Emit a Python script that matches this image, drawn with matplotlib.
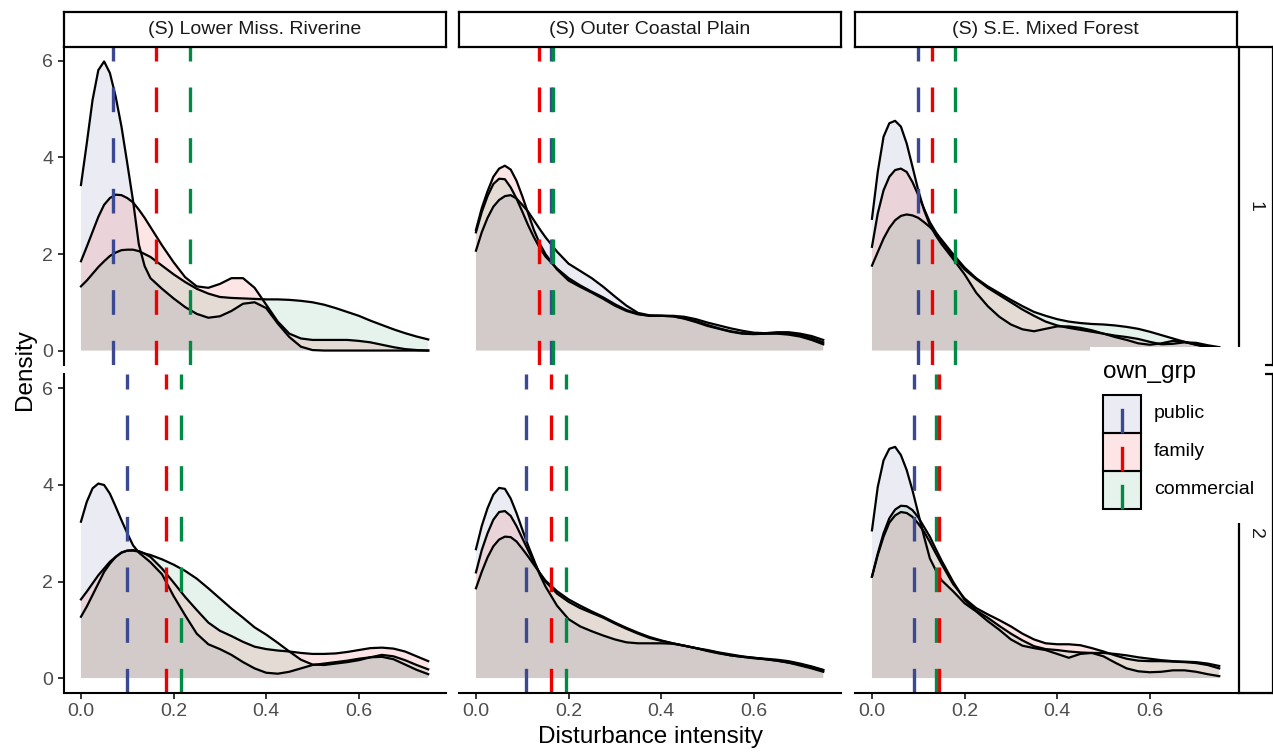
import matplotlib.pyplot as plt
from matplotlib.patches import Rectangle
from matplotlib.lines import Line2D
from matplotlib.colors import to_rgba

plt.rcParams['font.family'] = ['Liberation Sans', 'DejaVu Sans']

regions = ['(S) Lower Miss. Riverine', '(S) Outer Coastal Plain', '(S) S.E. Mixed Forest']
rows = ['1', '2']
groups = ['public', 'family', 'commercial']
colors = ['#3B4992', '#EE0000', '#008B45']

# density evaluation grid (disturbance intensity), finer near the peaks
x_grid = [0.0, 0.0125, 0.025, 0.0375, 0.05, 0.0625, 0.075, 0.0875, 0.1, 0.1125, 0.125, 0.1375, 0.15,
          0.175, 0.2, 0.225, 0.25, 0.275, 0.3, 0.325, 0.35, 0.375, 0.4, 0.425, 0.45, 0.475, 0.5,
          0.525, 0.55, 0.575, 0.6, 0.625, 0.65, 0.675, 0.7, 0.725, 0.75]

# row 1
r1c1_public = [3.43, 4.29, 5.19, 5.81, 5.99, 5.75, 5.26, 4.64, 3.88, 3.1, 2.2, 1.75, 1.5,
               1.28, 1.08, 0.9, 0.76, 0.68, 0.71, 0.82, 0.97, 1.0, 0.88, 0.56, 0.28, 0.08, 0.01,
               0, 0, 0, 0, 0, 0, 0, 0, 0, 0]
r1c1_family = [1.85, 2.15, 2.46, 2.77, 3.02, 3.16, 3.23, 3.22, 3.16, 3.07, 2.92, 2.75, 2.56,
               2.18, 1.83, 1.52, 1.33, 1.3, 1.38, 1.5, 1.5, 1.3, 0.95, 0.6, 0.35, 0.25, 0.22,
               0.22, 0.22, 0.22, 0.2, 0.17, 0.12, 0.07, 0.03, 0.01, 0.0]
r1c1_commercial = [1.33, 1.45, 1.59, 1.73, 1.85, 1.96, 2.03, 2.08, 2.09, 2.09, 2.06, 2.0, 1.94,
                   1.76, 1.58, 1.42, 1.28, 1.18, 1.11, 1.09, 1.08, 1.07, 1.06, 1.06, 1.05, 1.03, 1.0,
                   0.95, 0.88, 0.8, 0.72, 0.62, 0.53, 0.44, 0.36, 0.29, 0.23]

r1c2_public = [2.07, 2.45, 2.75, 2.98, 3.12, 3.2, 3.22, 3.15, 3.02, 2.88, 2.7, 2.52, 2.35,
               2.05, 1.8, 1.65, 1.5, 1.32, 1.12, 0.93, 0.78, 0.73, 0.72, 0.72, 0.7, 0.65, 0.58,
               0.52, 0.46, 0.41, 0.37, 0.36, 0.38, 0.38, 0.35, 0.3, 0.22]
r1c2_family = [2.5, 2.95, 3.3, 3.6, 3.77, 3.83, 3.75, 3.52, 3.2, 2.85, 2.5, 2.22, 2.0,
               1.68, 1.45, 1.32, 1.2, 1.07, 0.93, 0.82, 0.75, 0.72, 0.72, 0.71, 0.66, 0.59, 0.51,
               0.45, 0.39, 0.35, 0.34, 0.35, 0.35, 0.33, 0.29, 0.22, 0.13]
r1c2_commercial = [2.45, 2.87, 3.2, 3.45, 3.56, 3.55, 3.38, 3.15, 2.88, 2.6, 2.35, 2.13, 1.95,
                   1.7, 1.5, 1.35, 1.22, 1.1, 0.96, 0.84, 0.76, 0.72, 0.72, 0.71, 0.67, 0.61, 0.53,
                   0.46, 0.4, 0.36, 0.35, 0.35, 0.36, 0.35, 0.32, 0.26, 0.17]

r1c3_public = [2.73, 3.7, 4.43, 4.71, 4.76, 4.64, 4.29, 3.81, 3.32, 2.91, 2.6, 2.39, 2.21,
               1.9, 1.58, 1.2, 0.92, 0.7, 0.54, 0.44, 0.4, 0.45, 0.5, 0.5, 0.47, 0.42, 0.35,
               0.28, 0.22, 0.15, 0.12, 0.15, 0.2, 0.18, 0.12, 0.07, 0.05]
r1c3_family = [2.15, 2.84, 3.32, 3.6, 3.74, 3.77, 3.7, 3.49, 3.22, 2.94, 2.66, 2.46, 2.28,
               1.95, 1.68, 1.48, 1.3, 1.15, 1.0, 0.85, 0.72, 0.6, 0.52, 0.47, 0.43, 0.39, 0.35,
               0.31, 0.28, 0.24, 0.18, 0.13, 0.14, 0.17, 0.16, 0.11, 0.07]
r1c3_commercial = [1.76, 2.04, 2.32, 2.54, 2.7, 2.79, 2.82, 2.8, 2.75, 2.66, 2.56, 2.44, 2.3,
                   2.0, 1.72, 1.5, 1.33, 1.19, 1.05, 0.92, 0.8, 0.72, 0.65, 0.6, 0.57, 0.55, 0.54,
                   0.52, 0.49, 0.45, 0.39, 0.32, 0.25, 0.18, 0.12, 0.08, 0.06]

# row 2
r2c1_public = [3.24, 3.65, 3.93, 4.03, 4.0, 3.82, 3.55, 3.27, 3.0, 2.75, 2.6, 2.5, 2.4,
               2.15, 1.7, 1.3, 0.92, 0.7, 0.6, 0.48, 0.33, 0.2, 0.11, 0.09, 0.13, 0.2, 0.27,
               0.3, 0.33, 0.36, 0.4, 0.43, 0.44, 0.39, 0.28, 0.17, 0.08]
r2c1_family = [1.63, 1.79, 1.96, 2.13, 2.27, 2.41, 2.51, 2.6, 2.64, 2.65, 2.63, 2.58, 2.51,
               2.27, 1.98, 1.68, 1.41, 1.15, 0.98, 0.87, 0.75, 0.65, 0.6, 0.57, 0.55, 0.52, 0.5,
               0.5, 0.51, 0.54, 0.58, 0.62, 0.63, 0.61, 0.55, 0.45, 0.35]
r2c1_commercial = [1.27, 1.48, 1.72, 1.96, 2.2, 2.37, 2.51, 2.6, 2.64, 2.64, 2.62, 2.58, 2.55,
                   2.46, 2.35, 2.22, 2.06, 1.86, 1.65, 1.44, 1.25, 1.05, 0.9, 0.73, 0.55, 0.38, 0.28,
                   0.27, 0.3, 0.33, 0.37, 0.43, 0.48, 0.45, 0.37, 0.27, 0.18]

r2c2_public = [2.67, 3.15, 3.52, 3.8, 3.94, 3.92, 3.72, 3.42, 3.08, 2.75, 2.45, 2.15, 1.9,
               1.5, 1.22, 1.07, 0.97, 0.88, 0.8, 0.74, 0.72, 0.72, 0.72, 0.71, 0.67, 0.62, 0.57,
               0.52, 0.47, 0.44, 0.41, 0.39, 0.36, 0.32, 0.26, 0.2, 0.13]
r2c2_family = [2.19, 2.65, 3.0, 3.28, 3.44, 3.46, 3.36, 3.15, 2.9, 2.65, 2.4, 2.18, 2.0,
               1.75, 1.58, 1.45, 1.35, 1.25, 1.13, 1.02, 0.92, 0.83, 0.77, 0.72, 0.67, 0.62, 0.56,
               0.51, 0.47, 0.44, 0.42, 0.4, 0.38, 0.35, 0.3, 0.24, 0.17]
r2c2_commercial = [1.86, 2.2, 2.5, 2.73, 2.87, 2.93, 2.92, 2.83, 2.68, 2.52, 2.35, 2.18, 2.02,
                   1.8, 1.63, 1.5, 1.38, 1.27, 1.15, 1.04, 0.94, 0.85, 0.78, 0.72, 0.67, 0.62, 0.58,
                   0.53, 0.49, 0.45, 0.42, 0.39, 0.36, 0.32, 0.28, 0.23, 0.16]

r2c3_public = [3.06, 3.96, 4.51, 4.75, 4.79, 4.62, 4.31, 3.89, 3.41, 2.93, 2.48, 2.24, 2.03,
               1.8, 1.55, 1.38, 1.18, 1.0, 0.8, 0.67, 0.62, 0.58, 0.5, 0.42, 0.5, 0.52, 0.45,
               0.32, 0.2, 0.14, 0.12, 0.13, 0.16, 0.16, 0.13, 0.08, 0.04]
r2c3_family = [2.1, 2.55, 2.93, 3.22, 3.37, 3.44, 3.42, 3.34, 3.2, 3.03, 2.82, 2.59, 2.37,
               1.95, 1.65, 1.45, 1.32, 1.2, 1.07, 0.92, 0.8, 0.72, 0.7, 0.7, 0.68, 0.62, 0.55,
               0.47, 0.4, 0.36, 0.35, 0.35, 0.34, 0.33, 0.31, 0.27, 0.2]
r2c3_commercial = [2.1, 2.58, 3.0, 3.31, 3.49, 3.57, 3.56, 3.48, 3.33, 3.13, 2.93, 2.68, 2.44,
                   2.0, 1.62, 1.4, 1.25, 1.08, 0.92, 0.78, 0.66, 0.6, 0.58, 0.55, 0.53, 0.52, 0.52,
                   0.5, 0.47, 0.43, 0.4, 0.37, 0.35, 0.34, 0.33, 0.3, 0.25]

# group means (dashed vertical lines), [row][region]
mean_public = [[0.070, 0.161, 0.099], [0.100, 0.109, 0.091]]
mean_family = [[0.163, 0.137, 0.130], [0.184, 0.162, 0.144]]
mean_commercial = [[0.235, 0.166, 0.179], [0.217, 0.194, 0.139]]

dens = [[[r1c1_public, r1c1_family, r1c1_commercial],
         [r1c2_public, r1c2_family, r1c2_commercial],
         [r1c3_public, r1c3_family, r1c3_commercial]],
        [[r2c1_public, r2c1_family, r2c1_commercial],
         [r2c2_public, r2c2_family, r2c2_commercial],
         [r2c3_public, r2c3_family, r2c3_commercial]]]
means = [mean_public, mean_family, mean_commercial]

W, H = 1273, 754
fig = plt.figure(figsize=(W / 100, H / 100), dpi=100)


def px_axes(left, top, w, h):
    # place an axes using pixel coords measured from the top-left corner
    return fig.add_axes([left / W, 1 - (top + h) / H, w / W, h / H])


col_left = [63.6, 458.6, 854.6]
row_top = [47, 374.5]
pw, ph = 382, 318
vlw = 2.4
dash = (0, (7.4, 7.8))

ymax = max(max(y) for row in dens for panel in row for y in panel)
xmax = x_grid[-1]

for r in range(2):
    for c in range(3):
        ax = px_axes(col_left[c], row_top[r], pw, ph)
        for g in range(3):
            y = dens[r][c][g]
            ax.fill_between(x_grid, 0, y, facecolor=colors[g], alpha=0.1, lw=0)
            ax.plot(x_grid, y, color='black', lw=1.6, solid_joinstyle='round')
        for g in range(3):
            ax.axvline(means[g][r][c], color=colors[g], lw=vlw, ls=dash)
        ax.set_xlim(-0.05 * xmax, 1.05 * xmax)
        ax.set_ylim(-0.05 * ymax, 1.05 * ymax)
        for s in ax.spines.values():
            s.set_visible(False)
        ax.set_xticks([0, 0.2, 0.4, 0.6])
        ax.set_yticks([0, 2, 4, 6])
        if r == 1:
            ax.spines['bottom'].set_visible(True)
            ax.spines['bottom'].set_linewidth(1.5)
            ax.set_xticklabels(['0.0', '0.2', '0.4', '0.6'])
            ax.tick_params(axis='x', length=4.5, width=1.1, labelsize=14,
                           labelcolor='#4D4D4D', pad=3)
        else:
            ax.tick_params(axis='x', length=0, labelbottom=False)
        if c == 0:
            ax.spines['left'].set_visible(True)
            ax.spines['left'].set_linewidth(1.5)
            ax.set_yticklabels(['0', '2', '4', '6'])
            ax.tick_params(axis='y', length=4.5, width=1.1, labelsize=14,
                           labelcolor='#4D4D4D', pad=3)
        else:
            ax.tick_params(axis='y', length=0, labelleft=False)

# top strips
for c in range(3):
    s = px_axes(col_left[c], 12, pw, 35)
    s.set_xticks([])
    s.set_yticks([])
    for sp in s.spines.values():
        sp.set_linewidth(1.6)
    s.text(0.5, 0.5, regions[c], transform=s.transAxes, ha='center', va='center',
           fontsize=14, color='#1A1A1A')

# right strips
for r in range(2):
    s = px_axes(1238.5, row_top[r], 34, ph)
    s.set_xticks([])
    s.set_yticks([])
    for sp in s.spines.values():
        sp.set_linewidth(1.6)
    s.text(0.5, 0.5, rows[r], transform=s.transAxes, ha='center', va='center',
           fontsize=14, color='#1A1A1A', rotation=-90)

# legend drawn by hand, sitting over the right side
lg = px_axes(1090, 347, 175, 176)
lg.set_xlim(1090, 1265)
lg.set_ylim(523, 347)
lg.set_facecolor('white')
lg.set_xticks([])
lg.set_yticks([])
for sp in lg.spines.values():
    sp.set_visible(False)
lg.text(1103, 372, 'own_grp', fontsize=17.5, ha='left', va='center')
key_top = [395, 433, 471]
for g in range(3):
    t = key_top[g]
    lg.add_patch(Rectangle((1103, t), 38, 38, facecolor=to_rgba(colors[g], 0.1),
                           edgecolor='black', lw=1.5))
    lg.add_line(Line2D([1122, 1122], [t + 38, t], color=colors[g], lw=vlw, ls=dash))
    lg.text(1154, t + 19, groups[g], fontsize=14, ha='left', va='center')

fig.text(650 / W, 1 - 737 / H, 'Disturbance intensity', ha='center', va='center', fontsize=17.5)
fig.text(25 / W, 1 - 370 / H, 'Density', ha='center', va='center', rotation=90, fontsize=17.5)

fig.savefig('out.png', dpi=100)
